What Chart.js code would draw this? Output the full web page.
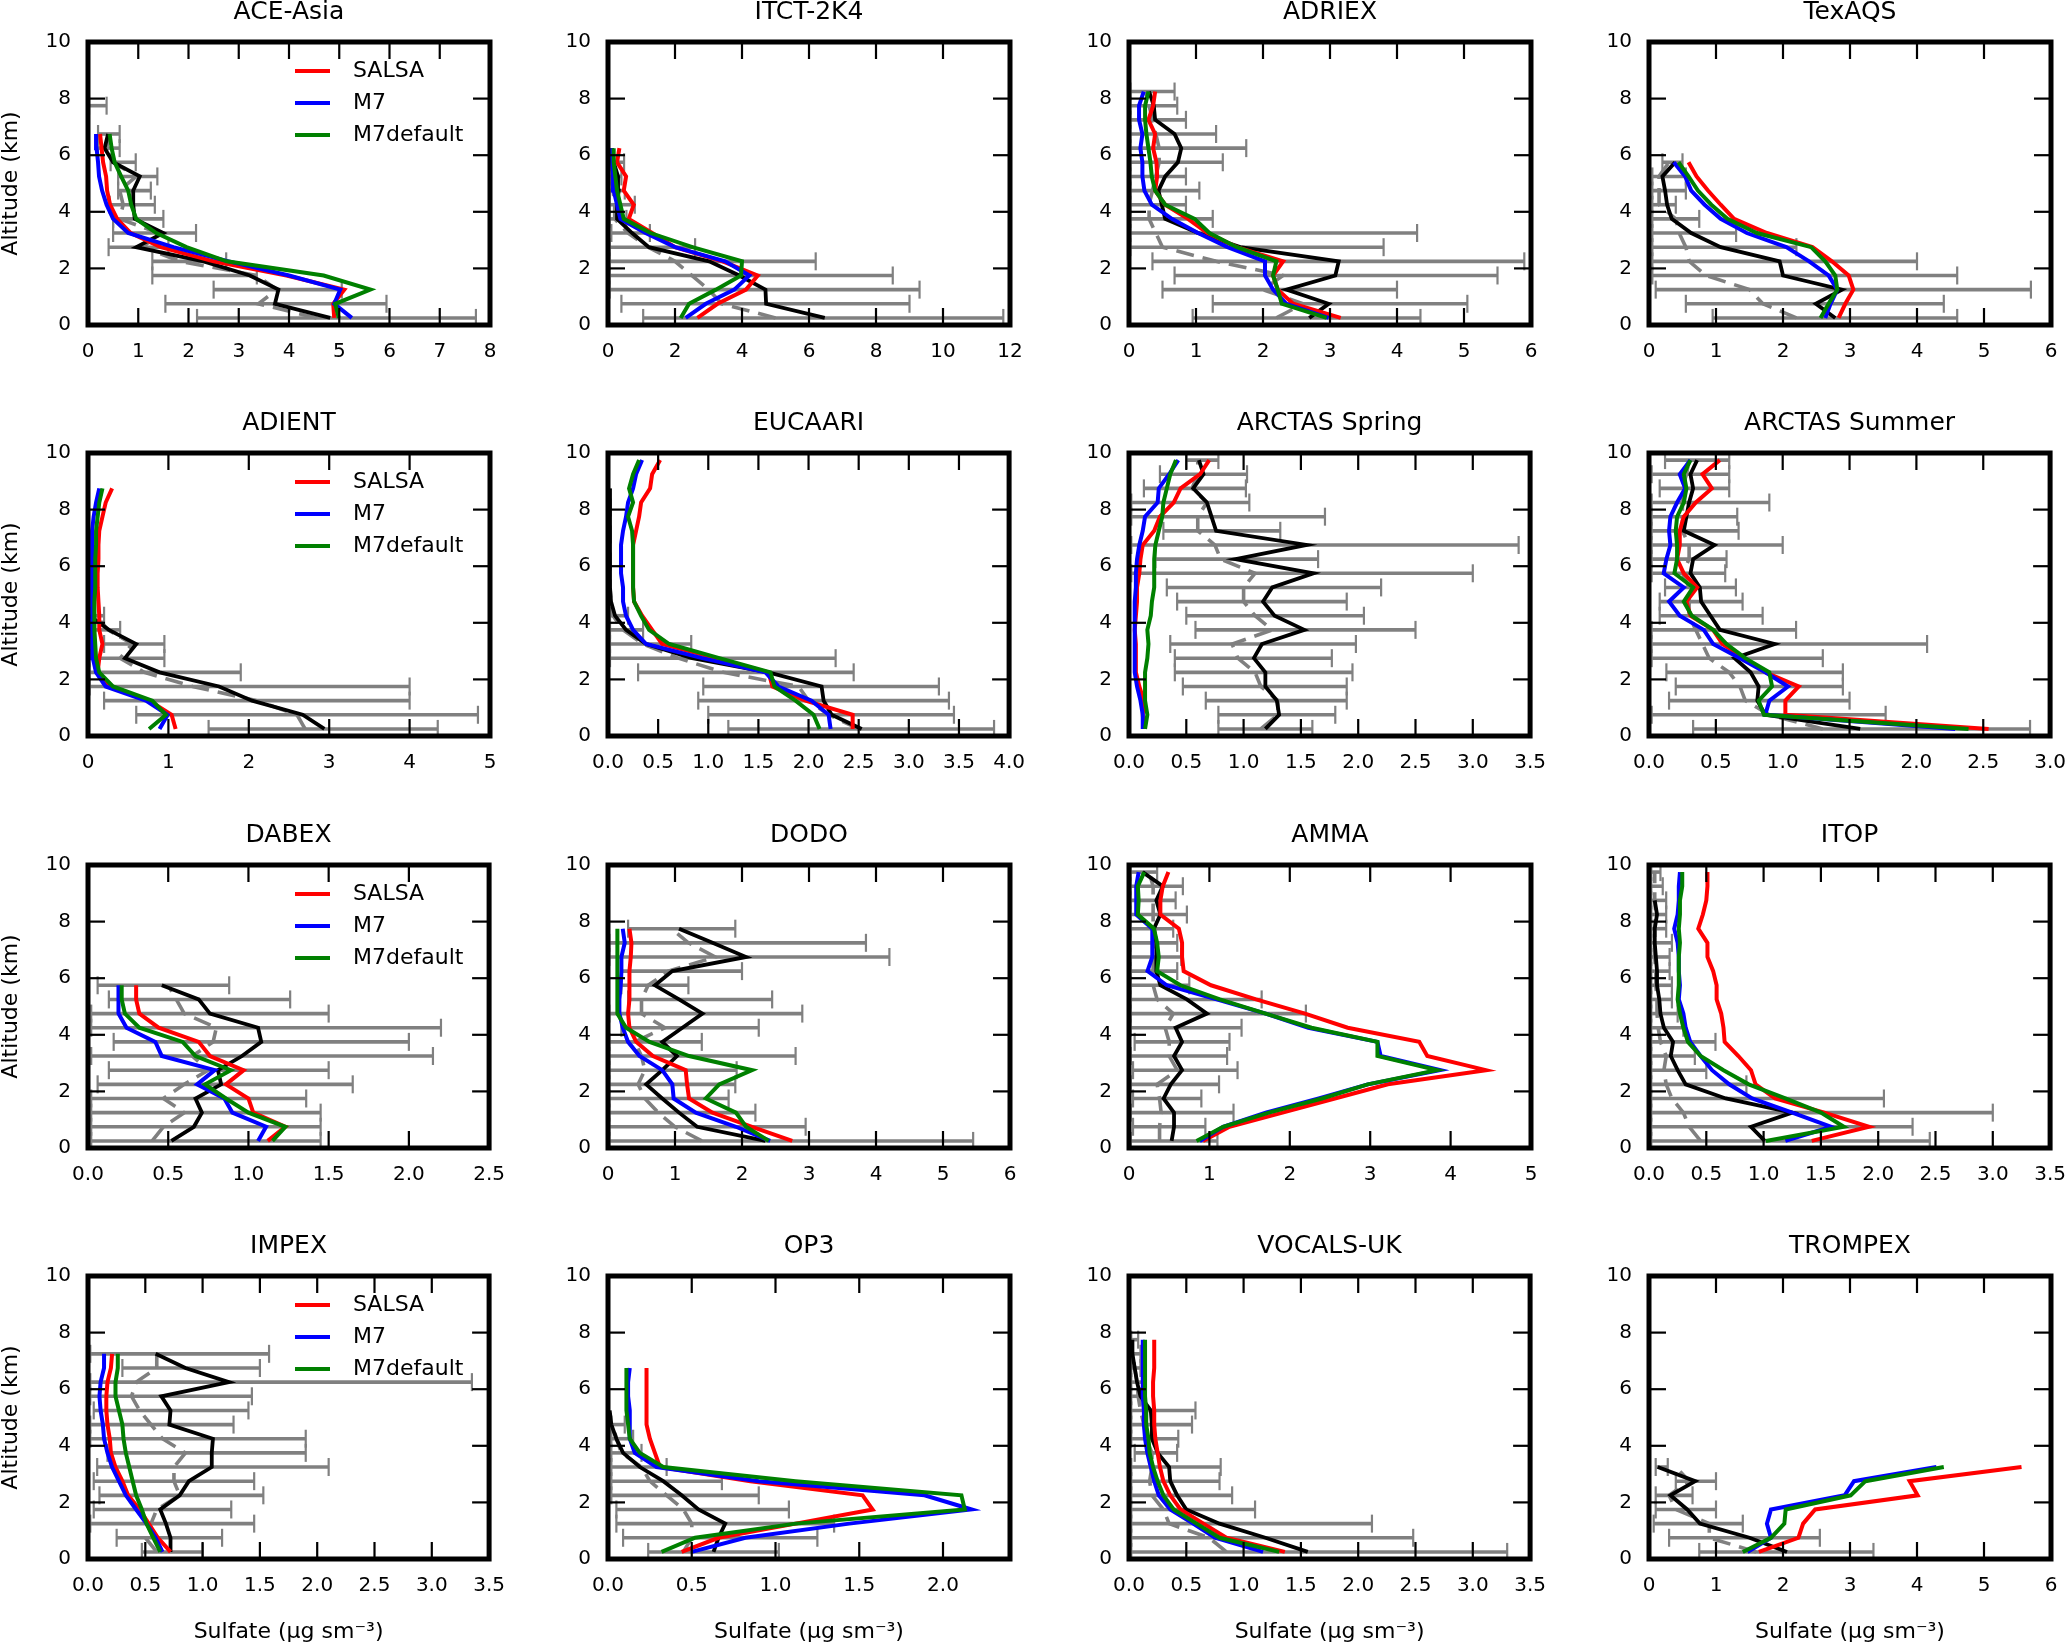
<!DOCTYPE html>
<html lang="en">
<head>
<meta charset="UTF-8">
<title>Sulfate profiles</title>
<script src="https://cdn.jsdelivr.net/npm/chart.js"></script>
<style>
  body { margin: 0; background: #fff; width: 2067px; height: 1645px; position: relative; overflow: hidden; }
  canvas { position: absolute; }
</style>
</head>
<body>
<script>
// altitude bin centres (km)
const ALT = [0.25, 0.75, 1.25, 1.75, 2.25, 2.75, 3.25, 3.75, 4.25, 4.75,
             5.25, 5.75, 6.25, 6.75, 7.25, 7.75, 8.25, 8.75, 9.25, 9.75];

const TITLES = ['ACE-Asia', 'ITCT-2K4', 'ADRIEX', 'TexAQS', 'ADIENT', 'EUCAARI', 'ARCTAS Spring', 'ARCTAS Summer',
                'DABEX', 'DODO', 'AMMA', 'ITOP', 'IMPEX', 'OP3', 'VOCALS-UK', 'TROMPEX'];
const X_MAX  = [8, 12, 6, 6, 5, 4, 3.5, 3, 2.5, 6, 5, 3.5, 3.5, 2.4, 3.5, 6];
const X_STEP = [1, 2, 1, 1, 1, 0.5, 0.5, 0.5, 0.5, 1, 1, 0.5, 0.5, 0.5, 0.5, 1];
const LEGEND = ['SALSA', 'M7', 'M7default'];

// ACE-Asia
const aceSalsa = [4.9, 4.88, 5.1, 3.95, 2.5, 1.45, 0.85, 0.58, 0.44, 0.38, 0.36, 0.3, 0.27, 0.24];
const aceM7    = [5.25, 4.9, 5.02, 4.0, 2.8, 1.7, 0.8, 0.5, 0.37, 0.28, 0.22, 0.2, 0.17, 0.16];
const aceM7d   = [4.99, 4.92, 5.62, 4.69, 2.76, 1.96, 1.36, 0.96, 0.86, 0.8, 0.66, 0.53, 0.47, 0.43];
const aceObs   = [4.82, 3.72, 3.79, 3.22, 2.3, 0.96, 1.5, 0.93, 0.9, 0.9, 1.03, 0.5, 0.33, 0.4];
const aceMed   = [4.55, 3.39, 3.76, 3.36, 1.83, 1.1, 1.4, 0.63, 0.7, 0.63, 0.96, 0.5, 0.37, 0.43];
const aceLo    = [2.17, 1.54, 2.5, 1.28, 1.28, 0.41, 0.5, 0.5, 0.43, 0.6, 0.6, 0.45, 0.2, 0.2, null, 0.02];
const aceHi    = [7.72, 5.94, 5.05, 3.36, 2.75, 1.6, 2.15, 1.5, 1.33, 1.25, 1.38, 0.95, 0.63, 0.63, null, 0.37];

// ITCT-2K4
const itcSalsa = [2.67, 3.27, 4.12, 4.47, 3.42, 2.0, 1.32, 0.62, 0.77, 0.47, 0.54, 0.27, 0.34];
const itcM7    = [2.32, 2.92, 3.77, 4.22, 3.5, 2.0, 1.12, 0.37, 0.27, 0.17, 0.15, 0.12, 0.12];
const itcM7d   = [2.17, 2.42, 3.22, 3.97, 4.0, 2.52, 1.27, 0.47, 0.37, 0.27, 0.22, 0.17, 0.17];
const itcObs   = [6.47, 4.72, 4.7, 3.92, 3.02, 1.22, 0.72, 0.27, 0.27, 0.32, 0.3, 0.17, 0.12];
const itcMed   = [5.0, 3.4, 3.0, 2.5, 2.0, 1.2, 0.6, 0.2, 0.2, 0.15, 0.12, 0.1, 0.1];
const itcLo    = [1.05, 0.4, 0.05, 0.05, 0.05, 0.05, 0.1, 0.05, 0.05, 0.05, 0.05, 0.05];
const itcHi    = [11.8, 9.0, 9.3, 8.5, 6.2, 2.6, 1.25, 0.55, 0.8, 0.5, 0.4, 0.48];

// ADRIEX
const adrSalsa = [3.16, 2.45, 2.22, 2.15, 2.3, 1.61, 1.17, 0.88, 0.54, 0.39, 0.42, 0.41, 0.36, 0.39, 0.29, 0.36, 0.39];
const adrM7    = [2.98, 2.35, 2.15, 2.03, 2.03, 1.47, 1.03, 0.64, 0.34, 0.23, 0.2, 0.2, 0.17, 0.2, 0.15, 0.15, 0.22];
const adrM7d   = [2.95, 2.28, 2.22, 2.15, 2.2, 1.61, 1.2, 0.98, 0.54, 0.39, 0.34, 0.32, 0.29, 0.26, 0.24, 0.24, 0.29];
const adrObs   = [2.69, 2.98, 2.35, 3.08, 3.13, 1.66, 1.03, 0.54, 0.49, 0.44, 0.54, 0.73, 0.78, 0.68, 0.39, 0.37, 0.3];
const adrMed   = [2.2, 2.6, 2.0, 2.3, 1.3, 0.5, 0.4, 0.3, 0.3, 0.35, 0.4, 0.45, 0.45, 0.4, 0.35, 0.3, 0.25];
const adrLo    = [0.95, 1.25, 0.5, 0.68, 0.35, 0.02, 0.02, 0.02, 0.02, 0.02, 0.02, 0.02, 0.02, 0.02, 0.02, 0.02, 0.02];
const adrHi    = [4.35, 5.05, 4.0, 5.5, 5.9, 3.8, 4.3, 1.25, 0.85, 1.05, 0.85, 1.4, 1.75, 1.3, 0.85, 0.72, 0.68];

// TexAQS
const texSalsa = [2.83, 2.93, 3.05, 2.98, 2.73, 2.44, 1.76, 1.27, 1.07, 0.88, 0.71, 0.59];
const texM7    = [2.63, 2.71, 2.81, 2.68, 2.39, 2.05, 1.46, 1.07, 0.83, 0.63, 0.54, 0.37];
const texM7d   = [2.56, 2.68, 2.81, 2.78, 2.63, 2.42, 1.61, 1.17, 0.93, 0.73, 0.59, 0.44];
const texObs   = [2.78, 2.49, 2.88, 2.0, 1.95, 1.07, 0.63, 0.34, 0.27, 0.24, 0.2, 0.39];
const texMed   = [2.2, 1.7, 1.5, 0.85, 0.6, 0.55, 0.45, 0.4, 0.15, 0.15, 0.15, 0.3];
const texLo    = [0.95, 0.55, 0.1, 0.05, 0.05, 0.05, 0.05, 0.05, 0.05, 0.05, 0.05, 0.2];
const texHi    = [4.6, 4.4, 5.7, 4.6, 4.0, 2.2, 1.3, 0.75, 0.4, 0.55, 0.55, 0.5];

// ADIENT
const adiSalsa = [1.09, 1.04, 0.76, 0.26, 0.12, 0.14, 0.18, 0.14, 0.14, 0.13, 0.12, 0.12, 0.13, 0.13, 0.14, 0.18, 0.22, 0.3];
const adiM7    = [0.89, 0.99, 0.72, 0.22, 0.1, 0.06, 0.05, 0.05, 0.05, 0.05, 0.05, 0.05, 0.05, 0.05, 0.06, 0.07, 0.1, 0.14];
const adiM7d   = [0.76, 0.97, 0.8, 0.31, 0.14, 0.1, 0.09, 0.08, 0.08, 0.08, 0.09, 0.09, 0.09, 0.1, 0.1, 0.12, 0.14, 0.18];
const adiObs   = [2.94, 2.67, 2.04, 1.63, 0.89, 0.46, 0.6, 0.26, 0.02];
const adiMed   = [2.7, 2.6, 2.1, 1.3, 0.7, 0.4, 0.55, 0.25, 0.1];
const adiLo    = [1.5, 0.6, 0.2, 0.02, 0.02, 0.02, 0.2, 0.02, 0.02];
const adiHi    = [4.35, 4.85, 4.0, 4.0, 1.9, 0.95, 0.95, 0.4, 0.2];

// EUCAARI
const eucSalsa = [2.44, 2.44, 1.97, 1.64, 1.6, 1.07, 0.54, 0.44, 0.34, 0.26, 0.25, 0.25, 0.25, 0.25, 0.28, 0.31, 0.33, 0.42, 0.44, 0.52];
const eucM7    = [2.22, 2.2, 2.03, 1.7, 1.57, 0.94, 0.38, 0.25, 0.18, 0.15, 0.15, 0.13, 0.13, 0.13, 0.15, 0.18, 0.2, 0.25, 0.28, 0.34];
const eucM7d   = [2.11, 2.05, 1.87, 1.66, 1.62, 1.11, 0.61, 0.41, 0.33, 0.26, 0.25, 0.25, 0.25, 0.25, 0.24, 0.2, 0.25, 0.21, 0.25, 0.31];
const eucObs   = [2.53, 2.23, 2.15, 2.13, 1.6, 0.84, 0.38, 0.18, 0.07, 0.03, 0.02, 0.02, 0.02, 0.02, 0.02, 0.02, 0.02, 0.02];
const eucMed   = [2.5, 2.2, 2.0, 1.9, 1.15, 0.7, 0.35, 0.15, 0.05, 0.03, 0.02, 0.02, 0.02, 0.02, 0.02, 0.02, 0.02, 0.02];
const eucLo    = [1.2, 1.0, 0.9, 0.95, 0.3, 0.02, 0.02, 0.02, 0.02];
const eucHi    = [3.85, 3.45, 3.4, 3.3, 2.45, 2.27, 0.83, 0.35, 0.2];

// ARCTAS Spring
const arsSalsa = [0.13, 0.12, 0.13, 0.09, 0.06, 0.06, 0.06, 0.05, 0.06, 0.07, 0.07, 0.09, 0.1, 0.12, 0.22, 0.27, 0.39, 0.45, 0.62, 0.7];
const arsM7    = [0.12, 0.12, 0.1, 0.07, 0.05, 0.05, 0.05, 0.05, 0.05, 0.05, 0.06, 0.06, 0.07, 0.09, 0.12, 0.14, 0.25, 0.26, 0.35, 0.43];
const arsM7d   = [0.14, 0.16, 0.14, 0.14, 0.14, 0.16, 0.17, 0.16, 0.19, 0.2, 0.22, 0.22, 0.22, 0.23, 0.26, 0.29, 0.3, 0.33, 0.36, 0.41];
const arsObs   = [1.19, 1.31, 1.29, 1.19, 1.19, 1.09, 1.16, 1.53, 1.27, 1.17, 1.25, 1.61, 0.93, 1.55, 0.76, 0.72, 0.68, 0.56, 0.65, 0.61];
const arsMed   = [1.15, 1.3, 1.3, 1.15, 1.1, 0.95, 0.9, 1.25, 1.1, 1.0, 1.0, 1.1, 0.8, 0.75, 0.6, 0.6, 0.68, 0.55, 0.6, 0.6];
const arsLo    = [0.78, 0.78, 0.67, 0.47, 0.4, 0.4, 0.36, 0.58, 0.5, 0.42, 0.33, 0.02, 0.23, 0.02, 0.3, 0.02, 0.02, 0.13, 0.27, 0.5];
const arsHi    = [1.6, 1.8, 1.9, 1.9, 1.95, 1.77, 1.98, 2.5, 2.05, 1.9, 2.2, 3.0, 1.65, 3.4, 1.32, 1.71, 1.05, 1.02, 1.03, 0.78];

// ARCTAS Summer
const asuSalsa = [2.54, 1.02, 1.02, 1.12, 0.87, 0.71, 0.55, 0.48, 0.31, 0.28, 0.36, 0.26, 0.21, 0.23, 0.23, 0.26, 0.35, 0.47, 0.4, 0.53];
const asuM7    = [2.29, 0.87, 0.9, 1.04, 0.87, 0.68, 0.48, 0.41, 0.23, 0.15, 0.26, 0.11, 0.13, 0.16, 0.15, 0.16, 0.21, 0.27, 0.23, 0.31];
const asuM7d   = [2.39, 0.86, 0.82, 0.92, 0.9, 0.72, 0.58, 0.48, 0.32, 0.26, 0.33, 0.19, 0.21, 0.21, 0.2, 0.21, 0.26, 0.28, 0.26, 0.31];
const asuObs   = [1.58, 0.87, 0.81, 0.82, 0.76, 0.64, 0.94, 0.53, 0.46, 0.39, 0.38, 0.31, 0.33, 0.49, 0.26, 0.28, 0.3, 0.33, 0.31, 0.36];
const asuMed   = [1.3, 0.9, 0.72, 0.68, 0.6, 0.45, 0.4, 0.35, 0.3, 0.3, 0.3, 0.25, 0.3, 0.3, 0.25, 0.25, 0.25, 0.25, 0.28, 0.3];
const asuLo    = [0.33, 0.02, 0.15, 0.2, 0.13, 0.02, 0.02, 0.02, 0.08, 0.08, 0.12, 0.02, 0.02, 0.02, 0.02, 0.02, 0.02, 0.08, 0.02, 0.12];
const asuHi    = [2.85, 1.77, 1.5, 1.45, 1.45, 1.3, 2.08, 1.1, 0.85, 0.7, 0.65, 0.57, 0.58, 1.0, 0.67, 0.66, 0.9, 0.6, 0.6, 0.6];

// DABEX
const dabSalsa = [1.12, 1.23, 1.03, 1.0, 0.86, 0.97, 0.76, 0.69, 0.44, 0.32, 0.3, 0.3];
const dabM7    = [1.06, 1.11, 0.9, 0.85, 0.68, 0.79, 0.46, 0.42, 0.24, 0.19, 0.19, 0.19];
const dabM7d   = [1.15, 1.23, 1.0, 0.86, 0.73, 0.89, 0.67, 0.59, 0.32, 0.23, 0.21, 0.21];
const dabObs   = [0.52, 0.66, 0.71, 0.67, 0.83, 0.81, 0.96, 1.08, 1.06, 0.76, 0.69, 0.46];
const dabMed   = [0.4, 0.47, 0.6, 0.47, 0.6, 0.75, 0.65, 0.78, 0.8, 0.6, 0.55, 0.5];
const dabLo    = [0.02, 0.02, 0.02, 0.02, 0.06, 0.13, 0.02, 0.16, 0.02, 0.02, 0.13, 0.06];
const dabHi    = [1.45, 1.45, 1.45, 1.36, 1.65, 1.5, 2.15, 2.0, 2.2, 1.5, 1.26, 0.88];

// DODO
const dodSalsa = [2.75, 2.15, 1.56, 1.21, 1.18, 1.16, 0.67, 0.42, 0.32, 0.3, 0.32, 0.32, 0.32, 0.34, 0.35, 0.32];
const dodM7    = [2.42, 1.91, 1.31, 0.98, 0.96, 0.81, 0.47, 0.3, 0.22, 0.17, 0.17, 0.19, 0.2, 0.2, 0.25, 0.22];
const dodM7d   = [2.4, 2.06, 1.91, 1.46, 1.66, 2.15, 1.21, 0.62, 0.27, 0.14, 0.14, 0.14, 0.14, 0.14, 0.14, 0.14];
const dodObs   = [2.35, 1.33, 1.06, 0.81, 0.57, 0.81, 1.03, 0.81, 1.11, 1.41, 1.06, 0.7, 0.96, 2.06, 1.56, 1.06];
const dodMed   = [1.4, 1.0, 0.75, 0.55, 0.45, 0.55, 0.5, 0.4, 0.85, 0.5, 0.5, 0.6, 0.9, 1.6, 1.2, 0.95];
const dodLo    = [0.02, 0.02, 0.02, 0.02, 0.02, 0.02, 0.02, 0.02, 0.2, 0.02, 0.3, 0.2, 0.2, 0.02, 0.02, 0.3];
const dodHi    = [5.45, 2.95, 2.2, 1.8, 1.9, 1.92, 2.8, 1.4, 2.25, 2.9, 2.45, 1.2, 2.0, 4.2, 3.85, 1.9];

// AMMA
const ammSalsa = [0.92, 1.25, 1.91, 2.56, 3.22, 4.44, 3.71, 3.61, 2.72, 2.19, 1.58, 1.02, 0.68, 0.66, 0.66, 0.62, 0.39, 0.39, 0.42, 0.49];
const ammM7    = [0.88, 1.17, 1.7, 2.36, 2.97, 3.87, 3.13, 3.09, 2.23, 1.7, 1.09, 0.47, 0.23, 0.29, 0.29, 0.29, 0.09, 0.09, 0.09, 0.12];
const ammM7d   = [0.84, 1.17, 1.74, 2.4, 2.97, 3.83, 3.09, 3.09, 2.27, 1.7, 1.13, 0.64, 0.35, 0.37, 0.35, 0.31, 0.11, 0.12, 0.11, 0.19];
const ammObs   = [0.53, 0.56, 0.56, 0.43, 0.52, 0.66, 0.56, 0.66, 0.58, 0.97, 0.72, 0.39, 0.34, 0.34, 0.34, 0.31, 0.39, 0.34, 0.42, 0.17];
const ammMed   = [0.38, 0.38, 0.4, 0.38, 0.35, 0.6, 0.5, 0.5, 0.45, 0.55, 0.35, 0.3, 0.3, 0.3, 0.3, 0.3, 0.3, 0.3, 0.3, 0.25];
const ammLo    = [0.02, 0.05, 0.02, 0.05, 0.02, 0.05, 0.02, 0.07, 0.02, 0.02, 0.02, 0.02, 0.02, 0.02, 0.02, 0.02, 0.02, 0.02, 0.02, 0.02];
const ammHi    = [1.1, 0.95, 1.3, 0.9, 1.12, 1.35, 1.22, 1.25, 1.4, 2.2, 1.65, 0.75, 0.6, 0.65, 0.6, 0.55, 0.72, 0.58, 0.67, 0.35];

// ITOP
const itoSalsa = [1.42, 1.92, 1.53, 1.1, 0.93, 0.89, 0.78, 0.66, 0.65, 0.63, 0.59, 0.59, 0.56, 0.51, 0.51, 0.43, 0.47, 0.5, 0.51, 0.51];
const itoM7    = [1.19, 1.59, 1.25, 0.9, 0.7, 0.55, 0.45, 0.36, 0.32, 0.3, 0.26, 0.27, 0.26, 0.26, 0.25, 0.22, 0.25, 0.26, 0.26, 0.27];
const itoM7d   = [1.02, 1.7, 1.5, 1.19, 0.87, 0.65, 0.45, 0.34, 0.3, 0.27, 0.25, 0.26, 0.26, 0.26, 0.27, 0.26, 0.27, 0.27, 0.29, 0.29];
const itoObs   = [1.01, 0.89, 1.25, 0.67, 0.32, 0.25, 0.19, 0.21, 0.13, 0.1, 0.09, 0.07, 0.07, 0.06, 0.05, 0.05, 0.07, 0.05];
const itoMed   = [0.45, 0.35, 0.3, 0.2, 0.15, 0.13, 0.15, 0.1, 0.08, 0.07, 0.07, 0.06, 0.06, 0.05, 0.05, 0.05, 0.06, 0.05, 0.05, 0.05];
const itoLo    = [0.02, 0.02, 0.02, 0.02, 0.02, 0.02, 0.02, 0.02, 0.02, 0.02, 0.02, 0.02, 0.02, 0.02, 0.02, 0.02, 0.02, 0.02, 0.02, 0.02];
const itoHi    = [2.45, 2.3, 3.0, 2.05, 0.85, 0.5, 0.4, 0.58, 0.3, 0.25, 0.2, 0.2, 0.18, 0.18, 0.2, 0.15, 0.15, 0.15, 0.12, 0.1];

// IMPEX
const impSalsa = [0.72, 0.61, 0.53, 0.45, 0.35, 0.3, 0.24, 0.2, 0.19, 0.17, 0.16, 0.16, 0.17, 0.2, 0.21];
const impM7    = [0.65, 0.59, 0.51, 0.42, 0.33, 0.27, 0.21, 0.17, 0.14, 0.13, 0.11, 0.1, 0.11, 0.14, 0.14];
const impM7d   = [0.63, 0.57, 0.51, 0.47, 0.42, 0.39, 0.36, 0.33, 0.31, 0.3, 0.27, 0.24, 0.24, 0.26, 0.26];
const impObs   = [0.72, 0.72, 0.68, 0.63, 0.8, 0.88, 1.08, 1.08, 1.09, 0.71, 0.72, 0.64, 1.23, 0.85, 0.59];
const impMed   = [0.6, 0.5, 0.55, 0.6, 0.8, 0.75, 0.75, 0.85, 0.65, 0.55, 0.45, 0.38, 0.42, 0.6, 0.6];
const impLo    = [0.47, 0.25, 0.02, 0.05, 0.1, 0.05, 0.08, 0.17, 0.02, 0.02, 0.05, 0.02, 0.02, 0.3, 0.02];
const impHi    = [1.0, 1.17, 1.45, 1.25, 1.53, 1.45, 2.1, 1.9, 1.9, 1.27, 1.4, 1.43, 3.35, 1.5, 1.58];

// OP3
const op3Salsa = [0.44, 0.66, 1.12, 1.58, 1.52, 0.85, 0.31, 0.28, 0.25, 0.23, 0.23, 0.23, 0.23, 0.23];
const op3M7    = [0.5, 0.82, 1.44, 2.17, 1.89, 0.9, 0.29, 0.16, 0.13, 0.13, 0.13, 0.12, 0.12, 0.13];
const op3M7d   = [0.32, 0.52, 1.12, 2.13, 2.11, 1.12, 0.33, 0.19, 0.13, 0.12, 0.11, 0.11, 0.11, 0.11];
const op3Obs   = [0.63, 0.66, 0.7, 0.54, 0.44, 0.33, 0.19, 0.09, 0.05, 0.02, 0.01];
const op3Med   = [0.45, 0.5, 0.5, 0.45, 0.35, 0.25, 0.2, 0.08, 0.05, 0.03];
const op3Lo    = [0.24, 0.09, 0.05, 0.05, 0.02, 0.02, 0.02, 0.02, 0.02, 0.02];
const op3Hi    = [1.02, 1.25, 1.35, 1.08, 0.9, 0.68, 0.35, 0.2, 0.15, 0.1];

// VOCALS-UK
const vocSalsa = [1.36, 0.85, 0.65, 0.45, 0.36, 0.3, 0.27, 0.25, 0.23, 0.22, 0.22, 0.21, 0.21, 0.22, 0.22, 0.22];
const vocM7    = [1.17, 0.75, 0.56, 0.36, 0.26, 0.22, 0.19, 0.16, 0.14, 0.13, 0.13, 0.12, 0.12, 0.12, 0.12, 0.12];
const vocM7d   = [1.31, 0.79, 0.59, 0.39, 0.3, 0.25, 0.21, 0.18, 0.17, 0.15, 0.15, 0.14, 0.14, 0.14, 0.14, 0.14];
const vocObs   = [1.56, 1.19, 0.79, 0.5, 0.42, 0.36, 0.35, 0.25, 0.2, 0.2, 0.19, 0.1, 0.07, 0.05, 0.03, 0.03];
const vocMed   = [0.85, 0.7, 0.35, 0.3, 0.2, 0.18, 0.2, 0.2, 0.15, 0.13, 0.1, 0.08, 0.07, 0.05, 0.03, 0.02];
const vocLo    = [0.02, 0.02, 0.02, 0.02, 0.02, 0.02, 0.02, 0.05, 0.02, 0.02, 0.02, 0.02, 0.02, 0.02, 0.02, 0.02];
const vocHi    = [3.3, 2.48, 2.12, 1.1, 0.9, 0.79, 0.8, 0.42, 0.43, 0.55, 0.58, 0.1, 0.12, 0.1, 0.1, 0.08];

// TROMPEX
const troSalsa = [1.64, 2.23, 2.3, 2.48, 4.01, 3.89, 5.56];
const troM7    = [1.47, 1.82, 1.76, 1.82, 2.92, 3.06, 4.29];
const troM7d   = [1.4, 1.82, 2.02, 2.04, 3.01, 3.23, 4.4];
const troObs   = [2.06, 1.5, 0.76, 0.57, 0.32, 0.69, 0.13];
const troMed   = [1.6, 0.9, 0.9, 0.4, 0.3, 0.6, 0.4];
const troLo    = [0.75, 0.3, 0.07, 0.1, 0.1, 0.4, 0.1];
const troHi    = [3.35, 2.55, 1.4, 1.0, 0.65, 1.0, 0.28];

const SERIES = [
  [aceSalsa, aceM7, aceM7d, aceObs, aceMed, aceLo, aceHi],
  [itcSalsa, itcM7, itcM7d, itcObs, itcMed, itcLo, itcHi],
  [adrSalsa, adrM7, adrM7d, adrObs, adrMed, adrLo, adrHi],
  [texSalsa, texM7, texM7d, texObs, texMed, texLo, texHi],
  [adiSalsa, adiM7, adiM7d, adiObs, adiMed, adiLo, adiHi],
  [eucSalsa, eucM7, eucM7d, eucObs, eucMed, eucLo, eucHi],
  [arsSalsa, arsM7, arsM7d, arsObs, arsMed, arsLo, arsHi],
  [asuSalsa, asuM7, asuM7d, asuObs, asuMed, asuLo, asuHi],
  [dabSalsa, dabM7, dabM7d, dabObs, dabMed, dabLo, dabHi],
  [dodSalsa, dodM7, dodM7d, dodObs, dodMed, dodLo, dodHi],
  [ammSalsa, ammM7, ammM7d, ammObs, ammMed, ammLo, ammHi],
  [itoSalsa, itoM7, itoM7d, itoObs, itoMed, itoLo, itoHi],
  [impSalsa, impM7, impM7d, impObs, impMed, impLo, impHi],
  [op3Salsa, op3M7, op3M7d, op3Obs, op3Med, op3Lo, op3Hi],
  [vocSalsa, vocM7, vocM7d, vocObs, vocMed, vocLo, vocHi],
  [troSalsa, troM7, troM7d, troObs, troMed, troLo, troHi]
];

const RED = '#ff0000', BLUE = '#0000ff', GREEN = '#008000', GRAY = '#808080';
const FONT = '"DejaVu Sans", sans-serif';
const CELL_W = 520.33, CELL_H = 411.33;
const PAD_L = 88, PAD_T = 42, PLOT_W = 402, PLOT_H = 283;

function toPoints(arr) {
  return arr.map((v, i) => ({ x: v, y: ALT[i] }));
}

function lineSet(arr, color, width, dash) {
  return {
    data: toPoints(arr), showLine: true, borderColor: color, borderWidth: width,
    borderDash: dash || [], pointRadius: 0, fill: false, tension: 0, spanGaps: false
  };
}

function seg(ctx, x0, y0, x1, y1) {
  ctx.beginPath(); ctx.moveTo(x0, y0); ctx.lineTo(x1, y1); ctx.stroke();
}

function decor(idx, col, row) {
  const s = SERIES[idx];
  const lo = s[5], hi = s[6];
  return {
    id: 'decor' + idx,
    beforeDatasetsDraw(chart) {
      const { ctx, scales: { x, y } } = chart;
      ctx.save();
      ctx.strokeStyle = GRAY;
      lo.forEach((l, i) => {
        const h = hi[i];
        if (l == null || h == null) return;
        const py = y.getPixelForValue(ALT[i]);
        const x0 = x.getPixelForValue(l), x1 = x.getPixelForValue(h);
        ctx.lineWidth = 3.6;
        seg(ctx, x0, py, x1, py);
        ctx.lineWidth = 2.2;
        seg(ctx, x0, py - 9, x0, py + 9);
        seg(ctx, x1, py - 9, x1, py + 9);
      });
      ctx.restore();
    },
    afterDraw(chart) {
      const { ctx, chartArea: a, scales: { x, y } } = chart;
      ctx.save();
      ctx.strokeStyle = '#000';
      // inward tick marks on all four sides
      ctx.lineWidth = 2.2;
      x.ticks.forEach(t => {
        const px = x.getPixelForValue(t.value);
        seg(ctx, px, a.bottom, px, a.bottom - 17);
        seg(ctx, px, a.top, px, a.top + 17);
      });
      y.ticks.forEach(t => {
        const py = y.getPixelForValue(t.value);
        seg(ctx, a.left, py, a.left + 17, py);
        seg(ctx, a.right, py, a.right - 17, py);
      });
      ctx.lineWidth = 5;
      ctx.strokeRect(a.left, a.top, a.right - a.left, a.bottom - a.top);

      ctx.fillStyle = '#000';
      ctx.textAlign = 'center';
      ctx.textBaseline = 'middle';
      ctx.font = '25px ' + FONT;
      ctx.fillText(TITLES[idx], (a.left + a.right) / 2, a.top - 30);

      if (col === 0) {
        ctx.save();
        ctx.translate(11, (a.top + a.bottom) / 2);
        ctx.rotate(-Math.PI / 2);
        ctx.font = '22px ' + FONT;
        ctx.fillText('Altitude (km)', 0, 0);
        ctx.restore();
        // legend
        const cols = [RED, BLUE, GREEN];
        ctx.textAlign = 'left';
        ctx.font = '22px ' + FONT;
        LEGEND.forEach((name, k) => {
          const ly = a.top + 29 + k * 32;
          ctx.strokeStyle = cols[k];
          ctx.lineWidth = 4;
          seg(ctx, a.left + 207, ly, a.left + 242, ly);
          ctx.fillText(name, a.left + 265, ly);
        });
      }
      if (row === 3) {
        ctx.textAlign = 'center';
        ctx.font = '22px ' + FONT;
        ctx.fillText('Sulfate (\u00b5g sm\u207b\u00b3)', (a.left + a.right) / 2, a.bottom + 73);
      }
      ctx.restore();
    }
  };
}

TITLES.forEach((title, idx) => {
  const col = idx % 4, row = Math.floor(idx / 4);
  const cv = document.createElement('canvas');
  cv.width = 520; cv.height = 411;
  cv.style.left = Math.round(CELL_W * col) + 'px';
  cv.style.top = Math.round(CELL_H * row) + 'px';
  document.body.appendChild(cv);

  const s = SERIES[idx];
  const step = X_STEP[idx];
  new Chart(cv, {
    type: 'scatter',
    data: {
      datasets: [
        lineSet(s[2], GREEN, 4),
        lineSet(s[1], BLUE, 4),
        lineSet(s[0], RED, 4),
        lineSet(s[3], '#000', 3.8),
        lineSet(s[4], GRAY, 3.6, [18, 9])
      ]
    },
    options: {
      responsive: false,
      animation: false,
      layout: { padding: { top: PAD_T, right: 520 - PAD_L - PLOT_W, left: 0, bottom: 0 } },
      plugins: { legend: { display: false }, tooltip: { enabled: false }, title: { display: false } },
      scales: {
        x: {
          type: 'linear', min: 0, max: X_MAX[idx],
          grid: { display: false, drawTicks: false }, border: { display: false },
          ticks: {
            stepSize: step, includeBounds: false, autoSkip: false, maxRotation: 0, padding: 15,
            color: '#000', font: { family: FONT, size: 20 },
            callback: v => step < 1 ? Number(v).toFixed(1) : String(v)
          },
          afterFit(sc) { sc.height = 411 - PAD_T - PLOT_H; }
        },
        y: {
          type: 'linear', min: 0, max: 10,
          grid: { display: false, drawTicks: false }, border: { display: false },
          ticks: { stepSize: 2, padding: 17, color: '#000', font: { family: FONT, size: 20 } },
          afterFit(sc) { sc.width = PAD_L; }
        }
      }
    },
    plugins: [decor(idx, col, row)]
  });
});
</script>
</body>
</html>
